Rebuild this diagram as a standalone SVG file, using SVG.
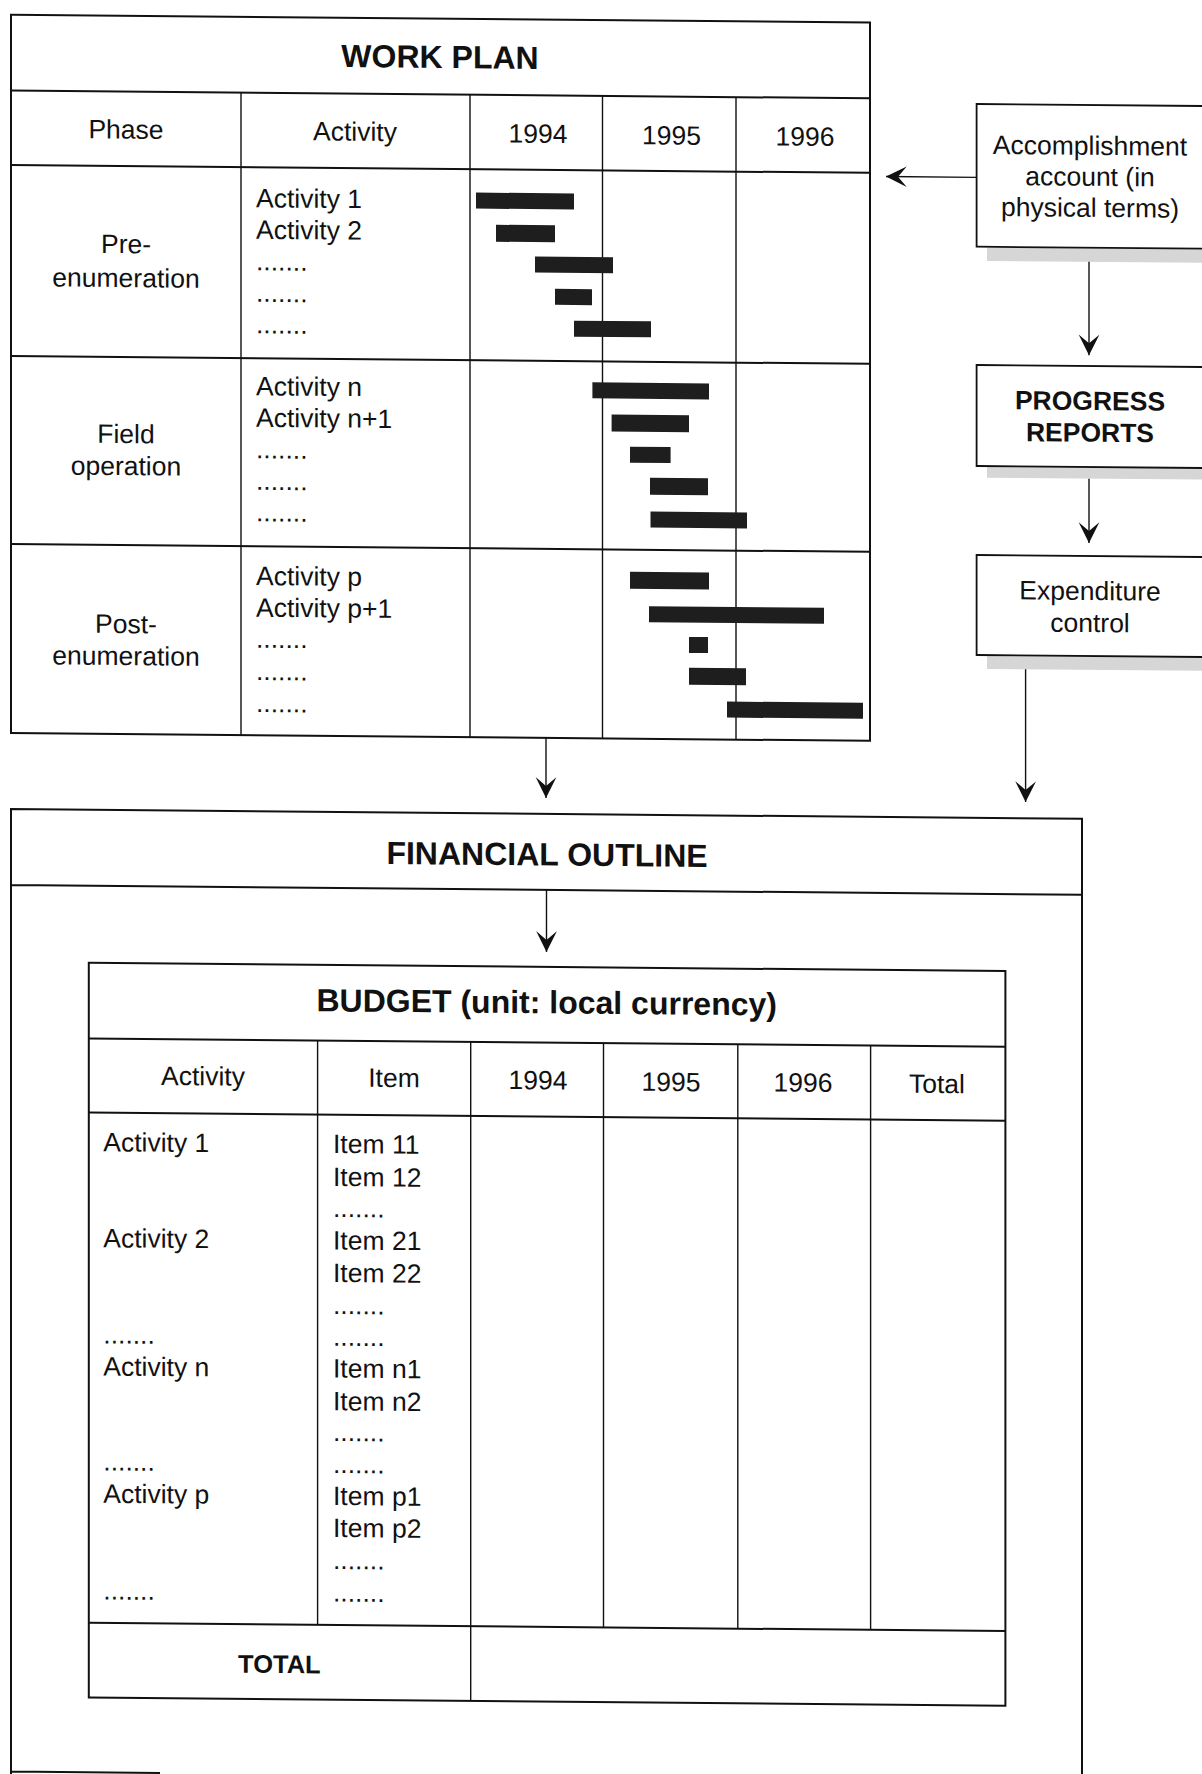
<svg xmlns="http://www.w3.org/2000/svg" width="1202" height="1774" viewBox="0 0 1202 1774">
<defs>
<style>
.t{font-family:"Liberation Sans",Arial,Helvetica,sans-serif;font-size:26.5px;fill:#111}
.c{text-anchor:middle}
.h{font-size:32px;font-weight:bold}
.b{font-weight:bold}
.frame{fill:none;stroke:#111;stroke-width:2}
.ln{stroke:#111;stroke-width:2;fill:none}
.vl{stroke:#111;stroke-width:1.4;fill:none}
.bar{fill:#1e1e1e}
.sh{fill:#d6d6d6}
.box{fill:#fff;stroke:#111;stroke-width:1.8}
.cn{stroke:#111;stroke-width:1.4;fill:none;marker-end:url(#ah)}
</style>
<marker id="ah" markerUnits="userSpaceOnUse" markerWidth="24" markerHeight="24" viewBox="-20 -11 22 22" refX="0" refY="0" orient="auto">
<path d="M0,0 L-19,-9.5 L-11,0 L-19,9.5 Z" fill="#111"/>
</marker>
</defs>
<rect width="1202" height="1774" fill="#fff"/>
<g transform="matrix(1 0.009 0 1 0 0)">

<g id="work-plan">
<rect class="frame" x="11" y="14.7" width="859" height="718.3"/>
<path class="ln" d="M11,90.5H870 M11,165H870 M11,356H870 M11,544H870"/>
<path class="vl" d="M241,90.5V733 M470,90.5V733 M602.5,90.5V733 M736,90.5V733"/>
<text class="t h c" x="440" y="64">WORK PLAN</text>
<text class="t c" x="126" y="137.5">Phase</text>
<text class="t c" x="355" y="137.5">Activity</text>
<text class="t c" x="538" y="138">1994</text>
<text class="t c" x="671.5" y="138.5">1995</text>
<text class="t c" x="805" y="138.5">1996</text>
<text class="t c" x="126" y="252">Pre-</text>
<text class="t c" x="126" y="286">enumeration</text>
<text class="t" x="256" y="205">Activity 1</text>
<text class="t" x="256" y="236.5">Activity 2</text>
<text class="t" x="256" y="268">.......</text>
<text class="t" x="256" y="299.5">.......</text>
<text class="t" x="256" y="331">.......</text>
<text class="t c" x="126" y="442">Field</text>
<text class="t c" x="126" y="474">operation</text>
<text class="t" x="256" y="393">Activity n</text>
<text class="t" x="256" y="424.5">Activity n+1</text>
<text class="t" x="256" y="456">.......</text>
<text class="t" x="256" y="487.5">.......</text>
<text class="t" x="256" y="519">.......</text>
<text class="t c" x="126" y="632">Post-</text>
<text class="t c" x="126" y="664">enumeration</text>
<text class="t" x="256" y="582.7">Activity p</text>
<text class="t" x="256" y="614.4">Activity p+1</text>
<text class="t" x="256" y="645.4">.......</text>
<text class="t" x="256" y="677.7">.......</text>
<text class="t" x="256" y="709.7">.......</text>
<rect class="bar" x="476" y="188.3" width="98" height="16"/>
<rect class="bar" x="496" y="220.3" width="59" height="17"/>
<rect class="bar" x="535" y="251.8" width="78" height="16"/>
<rect class="bar" x="555" y="283.8" width="37" height="16"/>
<rect class="bar" x="574" y="315.5" width="77" height="16"/>
<rect class="bar" x="592.4" y="377" width="116.6" height="16"/>
<rect class="bar" x="611.6" y="409" width="77.4" height="17"/>
<rect class="bar" x="630" y="441" width="40.6" height="16"/>
<rect class="bar" x="650" y="472" width="58" height="17"/>
<rect class="bar" x="650.5" y="505.7" width="96.5" height="16"/>
<rect class="bar" x="630" y="566" width="79" height="17"/>
<rect class="bar" x="649" y="600.4" width="175" height="16"/>
<rect class="bar" x="689" y="630.7" width="19" height="16"/>
<rect class="bar" x="689" y="661.5" width="57" height="17"/>
<rect class="bar" x="727" y="695" width="136" height="16"/>
</g>

<g id="accomplishment-account">
<rect class="sh" x="987" y="238.5" width="220" height="13.5"/>
<rect class="box" x="976.6" y="95.2" width="232" height="142.7"/>
<text class="t c" x="1090" y="145">Accomplishment</text>
<text class="t c" x="1090" y="176">account (in</text>
<text class="t c" x="1090" y="207">physical terms)</text>
</g>

<g id="progress-reports">
<rect class="sh" x="987" y="457.8" width="220" height="11"/>
<rect class="box" x="976.6" y="356.2" width="232" height="101"/>
<text class="t c b" x="1090" y="400.2">PROGRESS</text>
<text class="t c b" x="1090" y="431.9">REPORTS</text>
</g>

<g id="expenditure-control">
<rect class="sh" x="987" y="647" width="220" height="13"/>
<rect class="box" x="976.6" y="546.2" width="232" height="100"/>
<text class="t c" x="1090" y="590.2">Expenditure</text>
<text class="t c" x="1090" y="622.2">control</text>
</g>

<g id="financial-outline">
<path class="ln" d="M11,1790V809H1082V1790 M11,885H1082 M11,1771.5H160"/>
<text class="t h c" x="547" y="860.5">FINANCIAL OUTLINE</text>
</g>

<g id="budget">
<rect class="frame" x="88.8" y="962" width="916.6" height="734.6"/>
<path class="ln" d="M88.8,1037.6H1005.4 M88.8,1111.6H1005.4 M88.8,1622H1005.4"/>
<path class="vl" d="M317.6,1037.6V1622 M470.7,1037.6V1696.6 M603.5,1037.6V1622 M737.8,1037.6V1622 M870.6,1037.6V1622"/>
<text class="t h c" x="546.7" y="1008.4">BUDGET (unit: local currency)</text>
<text class="t c" x="203" y="1083.5">Activity</text>
<text class="t c" x="394" y="1083.5">Item</text>
<text class="t c" x="538" y="1084.5">1994</text>
<text class="t c" x="671" y="1085">1995</text>
<text class="t c" x="803" y="1084.5">1996</text>
<text class="t c" x="937" y="1084.5">Total</text>
<text class="t" x="103.3" y="1150.3">Activity 1</text>
<text class="t" x="103.3" y="1246.3">Activity 2</text>
<text class="t" x="103.3" y="1342.5">.......</text>
<text class="t" x="103.3" y="1374.6">Activity n</text>
<text class="t" x="103.3" y="1469.5">.......</text>
<text class="t" x="103.3" y="1501.8">Activity p</text>
<text class="t" x="103.3" y="1598.5">.......</text>
<text class="t" x="333" y="1150">Item 11</text>
<text class="t" x="333" y="1183">Item 12</text>
<text class="t" x="333" y="1214">.......</text>
<text class="t" x="333" y="1246.4">Item 21</text>
<text class="t" x="333" y="1279">Item 22</text>
<text class="t" x="333" y="1311">.......</text>
<text class="t" x="333" y="1342.7">.......</text>
<text class="t" x="333" y="1374.5">Item n1</text>
<text class="t" x="333" y="1407.3">Item n2</text>
<text class="t" x="333" y="1438">.......</text>
<text class="t" x="333" y="1470">.......</text>
<text class="t" x="333" y="1502">Item p1</text>
<text class="t" x="333" y="1534">Item p2</text>
<text class="t" x="333" y="1566">.......</text>
<text class="t" x="333" y="1598.5">.......</text>
<text class="t c b" x="279.4" y="1670.5" style="font-size:25.5px">TOTAL</text>
</g>

<g id="connectors">
<path class="cn" d="M976.6,168.6H886"/>
<path class="cn" d="M1089,252V345.5"/>
<path class="cn" d="M1089,469V533.2"/>
<path class="cn" d="M1025.6,660V792.8"/>
<path class="cn" d="M546,733V793"/>
<path class="cn" d="M546.5,885V947"/>
</g>

</g>
</svg>
